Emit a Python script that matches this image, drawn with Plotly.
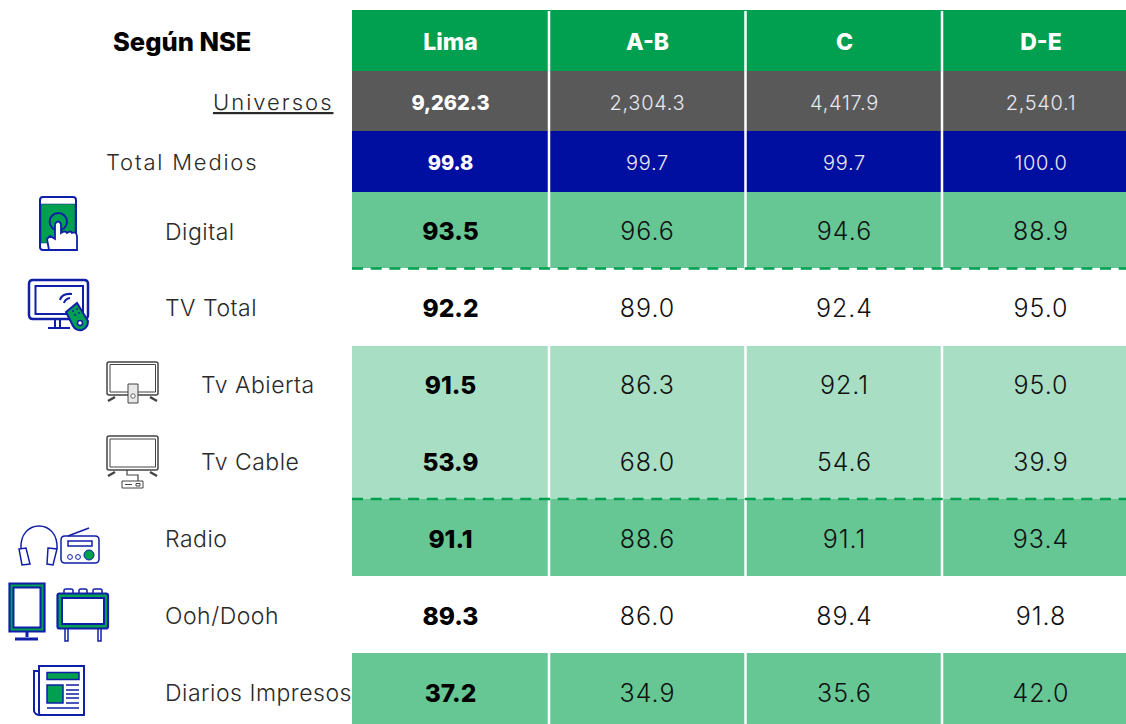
import plotly.graph_objects as go

columns = ["Lima", "A-B", "C", "D-E"]
row_labels = ["Universos", "Total Medios", "Digital", "TV Total", "Tv Abierta", "Tv Cable", "Radio", "Ooh/Dooh", "Diarios Impresos"]
universos = ["9,262.3", "2,304.3", "4,417.9", "2,540.1"]
total_medios = [99.8, 99.7, 99.7, 100.0]
digital = [93.5, 96.6, 94.6, 88.9]
tv_total = [92.2, 89.0, 92.4, 95.0]
tv_abierta = [91.5, 86.3, 92.1, 95.0]
tv_cable = [53.9, 68.0, 54.6, 39.9]
radio = [91.1, 88.6, 91.1, 93.4]
ooh = [89.3, 86.0, 89.4, 91.8]
diarios = [37.2, 34.9, 35.6, 42.0]

GREEN = "#00A050"; MID = "#66C795"; LIGHT = "#A8DEC3"; GRAY = "#595959"; BLUE = "#000FA0"; ICON = "#101FA8"; TVC = "#444444"
col_edges = [352, 549, 745.5, 942, 1126]
row_edges = [10, 71, 131, 192, 268, 346, 423, 499, 576, 653, 724]
row_fill = [GREEN, GRAY, BLUE, MID, None, LIGHT, LIGHT, MID, None, MID]
col_centers = [450.5, 647.5, 844.5, 1041]
row_centers = [41, 102, 162, 231, 308, 385, 462, 539, 616, 693]
TEXT_DY = 3
FONT = "Inter"
NOFILL = "rgba(0,0,0,0)"

shapes = []
def rect(x0, y0, x1, y1, fill):
    shapes.append(dict(type="rect", x0=x0, y0=y0, x1=x1, y1=y1, fillcolor=fill, layer="below", line=dict(width=0)))
def line(x0, y0, x1, y1, color, w=1.5, dash="solid"):
    shapes.append(dict(type="line", x0=x0, y0=y0, x1=x1, y1=y1, line=dict(color=color, width=w, dash=dash)))
def path(d, fill=NOFILL, color=ICON, w=2):
    shapes.append(dict(type="path", path=d, fillcolor=fill, line=dict(color=color, width=w)))
def circ(cx, cy, r, fill=NOFILL, color=ICON, w=1.5):
    shapes.append(dict(type="circle", x0=cx - r, y0=cy - r, x1=cx + r, y1=cy + r, fillcolor=fill, line=dict(color=color, width=w)))
def rr(x0, y0, x1, y1, r=2):
    return (f"M{x0+r},{y0} L{x1-r},{y0} Q{x1},{y0} {x1},{y0+r} L{x1},{y1-r} Q{x1},{y1} {x1-r},{y1} "
            f"L{x0+r},{y1} Q{x0},{y1} {x0},{y1-r} L{x0},{y0+r} Q{x0},{y0} {x0+r},{y0} Z")

for i, f in enumerate(row_fill):
    if f:
        rect(col_edges[0], row_edges[i], col_edges[-1], row_edges[i + 1], f)
for x in col_edges[1:-1]:
    for a, b in [(11, 268), (346, 576), (653, 724)]:
        line(x, a, x, b, "white", 2.5)
for y in (268.5, 499):
    line(352, y, 1126, y, GREEN, 2.5, "11px,7.7px")

# Digital
path(rr(40, 197, 76, 250, 3), "white", ICON, 2)
path("M41,204 L75,204 L75,243 L41,243 Z", GREEN, ICON, 0.5)
circ(58.3, 221.7, 8.7, NOFILL, ICON, 2)
path("M49,250 L47,239 L50,236 L55,239 L55,224 Q58,219 61,224 L61,233 Q65,230 67,233 Q71,230 72,233 Q76,231 77,236 L77,250 Z", "white", ICON, 1.8)
# TV Total
path(rr(29, 280, 88, 319, 4), "white", ICON, 2.5)
path("M35.5,286 L83,286 L83,314 L35.5,314 Z", "white", ICON, 2)
path("M48,328 L70,328 M55,319 L55,328 M60,319 L60,328", color=ICON, w=2)
path("M60,300 Q62,293 72,294 M64,303 Q65,299 70,298", color=ICON, w=2)
path("M66,312 L77,303 L88,321 Q88,328 82,330 Q76,331 73,326 Z", GREEN, ICON, 2)
for p in [(73, 311), (77, 309), (75, 315), (79, 313)]:
    circ(p[0], p[1], 0.8, ICON, ICON, 0.5)
circ(80, 323, 2.5, "white", ICON, 1.5)
# Tv Abierta
path(rr(107, 362, 158, 395, 2), "white", TVC, 1.5)
path("M110,364.5 L155.5,364.5 L155.5,392 L110,392 Z", "white", TVC, 1)
path("M108,401 L115,397 M157,401 L150,397", color=TVC, w=2.5)
path("M128,384 L138,384 L138,403 L128,403 Z", "#e8e8e8", TVC, 1)
circ(133, 396, 2.2, "white", TVC, 0.8)
# Tv Cable
path(rr(107, 436, 158, 470, 2), "white", TVC, 1.5)
path("M110,439 L155.5,439 L155.5,467 L110,467 Z", "white", TVC, 1)
path("M108,476 L115,472 M157,476 L150,472", color=TVC, w=2.5)
path("M127,470 L127,475 L138,475 L138,481", color=TVC, w=1.2)
path("M122,481 L143,481 L143,488 L122,488 Z", "white", TVC, 1)
path("M125,484.5 L132,484.5 M136,483.5 L140,483.5 L140,486 L136,486 Z", color=TVC, w=1)
# Radio
path("M21,549 C20,534 29,526 39,526 C49,526 58,534 57,549", color=ICON, w=1.5)
path("M19,549 L26,548 L30,564 L22,565 Z M48,548 L57,549 L53,565 L47,564 Z", "white", ICON, 1.5)
path(rr(61, 536, 99, 563, 4), "white", ICON, 1.5)
path("M68,536 L89,528", color=ICON, w=1.5)
path("M68,541 L92,541 L92,546 L68,546 Z", "white", ICON, 1.5)
circ(89, 555, 5, GREEN, ICON, 1)
circ(70, 557, 2.4, "white", ICON, 1)
circ(78, 557, 2.4, "white", ICON, 1)
# Ooh/Dooh
path("M9.5,583.5 L44.5,583.5 L44.5,631.5 L9.5,631.5 Z", GREEN, ICON, 2.2)
path("M13.5,587.5 L40.5,587.5 L40.5,627.5 L13.5,627.5 Z", "white", ICON, 2)
path("M27,632 L27,637 M15,639 L38,639", color=ICON, w=3)
path("M64,594 L64,590 Q64,589 66,589 L71,589 Q73,589 73,590 L73,594 M79,594 L79,590 Q79,589 81,589 L85,589 Q87,589 87,590 L87,594 M93,594 L93,590 Q93,589 95,589 L100,589 Q102,589 102,590 L102,594", color=ICON, w=1.5)
path("M65,629 L65,641 L68,641 L68,629 M98,629 L98,641 L101,641 L101,629", color=ICON, w=1.5)
path(rr(57.5, 593.5, 108, 628.5, 2), GREEN, ICON, 2.2)
path("M62,598 L104,598 L104,624 L62,624 Z", "white", ICON, 2)
# Diarios
path("M39,671 L34,671 L34,711 Q35,715 40,715 Z", "white", ICON, 2)
path("M39,666 L84,666 L84,715 L40,715 Q39,715 39,711 Z", "white", ICON, 2)
path("M47,672.5 L79,672.5 L79,679.5 L47,679.5 Z", GREEN, ICON, 1.5)
path("M47,685 L63,685 L63,703 L47,703 Z", GREEN, ICON, 1.5)
path("M66,685 L79,685 M66,690 L79,690 M66,694 L79,694 M66,698 L79,698 M66,703 L79,703 M47,708 L79,708", color=ICON, w=1.5)

fig = go.Figure()
rows = [columns, universos, total_medios, digital, tv_total, tv_abierta, tv_cable, radio, ooh, diarios]

def fmt(v, sp=0):
    s = v if isinstance(v, str) else f"{v:.1f}"
    return f'<span style="letter-spacing:{sp}px">{s}</span>' if sp else s

for r, vals in enumerate(rows):
    y = row_centers[r] + TEXT_DY
    dark = r > 2
    first = dict(family=FONT, size=24.5 if dark else (23 if r == 0 else 20), weight=800,
                 color="black" if dark else "white")
    rest = dict(family=FONT, size=25 if dark else (23 if r == 0 else 20), weight=800 if r == 0 else 300,
                color="#111111" if dark else ("white" if r == 0 else "#e8e8ef"))
    sp = 1 if dark else (0 if r == 0 else 0.7)
    fig.add_trace(go.Scatter(x=col_centers[:1], y=[y], mode="text", text=[fmt(vals[0])], textfont=first, hoverinfo="skip"))
    fig.add_trace(go.Scatter(x=col_centers[1:], y=[y] * 3, mode="text", text=[fmt(v, sp) for v in vals[1:]],
                             textfont=rest, hoverinfo="skip"))

label_x = [211, 104, 162.5, 162.5, 198.5, 198.5, 162.5, 162.5, 162.5]
label_y = [102, 162, 232, 308, 385, 462, 539, 616, 693]
for i, t in enumerate(row_labels):
    sp = 2 if i == 0 else (1.8 if i == 1 else 0.5)
    body = f'<span style="letter-spacing:{sp}px">{t}</span>'
    fig.add_annotation(x=label_x[i], y=label_y[i], text=f"<u>{body}</u>" if i == 0 else body, showarrow=False, xanchor="left",
                       font=dict(family=FONT, size=22 if i < 2 else 23, color="#2a2a2a", weight=300))
fig.add_annotation(x=182, y=41, text="Según NSE", showarrow=False,
                   font=dict(family=FONT, size=25.5, color="black", weight=800))

fig.update_layout(width=1126, height=724, margin=dict(l=0, r=0, t=0, b=0), showlegend=False,
                  paper_bgcolor="white", plot_bgcolor="white", shapes=shapes,
                  xaxis=dict(range=[0, 1126], visible=False, fixedrange=True),
                  yaxis=dict(range=[724, 0], visible=False, fixedrange=True))
fig.write_html("out.html", config={"displayModeBar": False},
               post_script="document.body.style.margin='0';document.documentElement.style.overflow='hidden';")
